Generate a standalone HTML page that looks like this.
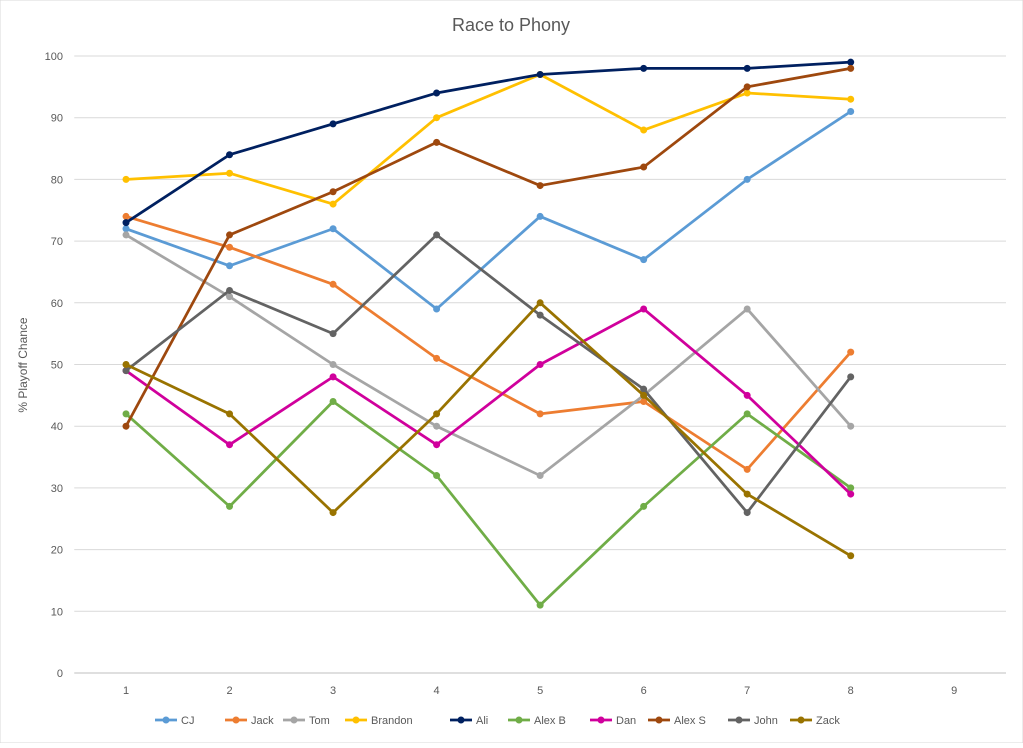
<!DOCTYPE html>
<html><head><meta charset="utf-8"><style>
body{margin:0;background:#fff;font-family:"Liberation Sans",sans-serif}
svg text{font-family:"Liberation Sans",sans-serif}
</style></head><body>
<svg id="chart" width="1023" height="743" xmlns="http://www.w3.org/2000/svg">
<rect width="1023" height="743" fill="#fff" stroke="#d9d9d9"/>
<text x="511" y="31" text-anchor="middle" font-size="18" fill="#595959">Race to Phony</text>
<text transform="translate(27,365) rotate(-90)" text-anchor="middle" font-size="12" fill="#595959">% Playoff Chance</text>
<g id="grid"></g><g id="series"></g><g id="legend"></g>
</svg>
<script>
const categories=[1,2,3,4,5,6,7,8,9];
const yTicks=[0,10,20,30,40,50,60,70,80,90,100];
const names=["CJ","Jack","Tom","Brandon","Ali","Alex B","Dan","Alex S","John","Zack"];
const colors=["#5B9BD5","#ED7D31","#A5A5A5","#FFC000","#002060","#70AD47","#D0009C","#9E480E","#636363","#997300"];
const sCJ=[72,66,72,59,74,67,80,91];
const sJack=[74,69,63,51,42,44,33,52];
const sTom=[71,61,50,40,32,45,59,40];
const sBrandon=[80,81,76,90,97,88,94,93];
const sAli=[73,84,89,94,97,98,98,99];
const sAlexB=[42,27,44,32,11,27,42,30];
const sDan=[49,37,48,37,50,59,45,29];
const sAlexS=[40,71,78,86,79,82,95,98];
const sJohn=[49,62,55,71,58,46,26,48];
const sZack=[50,42,26,42,60,45,29,19];
const series=[sCJ,sJack,sTom,sBrandon,sAli,sAlexB,sDan,sAlexS,sJohn,sZack];
const NS="http://www.w3.org/2000/svg";
const L=74.25,R=1006,T=56,B=673;
const step=(R-L)/categories.length;
const x=i=>L+step*(i+0.5);
const y=v=>B-(v/100)*(B-T);
function mk(t,a,p){const e=document.createElementNS(NS,t);for(const k in a)e.setAttribute(k,a[k]);p.appendChild(e);return e;}
const grid=document.getElementById('grid');
yTicks.forEach(v=>{
 const l=mk('line',{x1:L,x2:R,y1:y(v),y2:y(v),stroke:v===0?'#bfbfbf':'#d9d9d9','stroke-width':1},grid);
 
 
 const t=mk('text',{x:63,y:y(v)+4,'text-anchor':'end','font-size':11,fill:'#595959'},grid);t.textContent=v;
 
 
});
categories.forEach((c,i)=>{
 const t=mk('text',{x:x(i),y:694,'text-anchor':'middle','font-size':11,fill:'#595959'},grid);t.textContent=c;
 
 
});
const sg=document.getElementById('series');
series.forEach((d,si)=>{
 const g=mk('g',{},sg);
 
 
 mk('polyline',{points:d.map((v,i)=>x(i)+','+y(v)).join(' '),fill:'none',stroke:colors[si],'stroke-width':2.75,'stroke-linejoin':'round'},g);
 d.forEach((v,i)=>{const c=mk('circle',{cx:x(i),cy:y(v),r:3.5,fill:colors[si]},g);
  
  });
});
const lg=document.getElementById('legend');
const starts=[155,225,283,345,450,508,590,648,728,790];
names.forEach((n,i)=>{
 const lx=starts[i];
 const g=mk('g',{},lg);
 
 
 mk('line',{x1:lx,x2:lx+22,y1:720,y2:720,stroke:colors[i],'stroke-width':2.75},g);
 mk('circle',{cx:lx+11,cy:720,r:3.5,fill:colors[i]},g);
 const t=mk('text',{x:lx+26,y:724,'font-size':11,fill:'#595959'},g);t.textContent=n;
});
</script>
</body></html>
